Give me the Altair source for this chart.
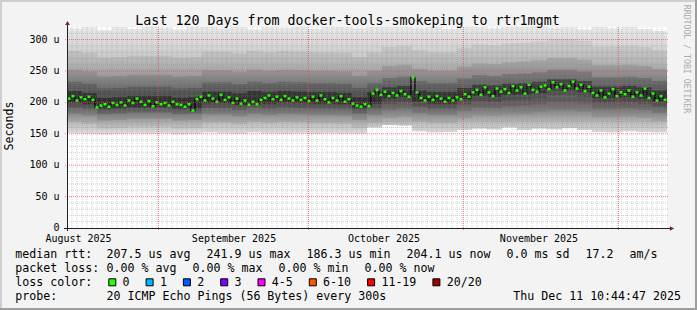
import altair as alt
import pandas as pd

# ---------------- data ----------------
# median rtt in microseconds, one sample every 0.8 day over the 120-day window
median_rtt = [
    206, 210, 203, 208, 205, 209, 204, 192, 195, 197, 193, 199, 196, 200, 195,
    203, 199, 206, 201, 196, 202, 194, 200, 197, 199, 195, 201, 197, 196, 193,
    197, 187, 205, 209, 203, 211, 206, 201, 212, 204, 208, 199, 206, 198, 203,
    196, 201, 197, 204, 207, 211, 205, 209, 204, 210, 206, 203, 208, 204, 207,
    202, 209, 203, 211, 205, 200, 207, 203, 210, 201, 205, 198, 195, 193, 197,
    194, 214, 220, 212, 217, 210, 215, 211, 218, 213, 209, 240, 216, 207, 203,
    209, 204, 210, 206, 201, 207, 203, 208, 205, 213, 209, 216, 220, 212, 224,
    216, 210, 222, 217, 221, 215, 226, 219, 224, 214, 228, 220, 217, 225, 227,
    221, 232, 224, 229, 219, 226, 233, 222, 228, 218, 225, 215, 211, 219, 208,
    214, 221, 210, 216, 213, 219, 209, 216, 211, 222, 207, 214, 203, 210, 204,
]

# smoke percentiles (us), one sample every 3 days
smoke_min = [151, 150, 149, 150, 151, 150, 151, 149, 150, 152, 151, 150, 152, 151, 150, 151, 150, 151, 150, 150,
             160, 164, 163, 154, 152, 153, 156, 158, 157, 160, 156, 158, 157, 159, 156, 153, 152, 154, 153, 152]
smoke_p10 = [169, 166, 158, 159, 161, 161, 161, 158, 159, 168, 168, 165, 169, 167, 169, 168, 167, 167, 166, 159,
             167, 175, 177, 170, 167, 167, 174, 179, 178, 181, 182, 184, 188, 188, 185, 176, 176, 177, 175, 170]
smoke_p20 = [182, 179, 171, 172, 174, 174, 174, 171, 172, 181, 181, 178, 182, 180, 182, 181, 180, 180, 179, 172,
             180, 188, 190, 183, 180, 180, 187, 192, 191, 194, 195, 197, 201, 201, 198, 189, 189, 190, 188, 183]
smoke_p30 = [192, 189, 181, 182, 184, 184, 184, 181, 182, 191, 191, 188, 192, 190, 192, 191, 190, 190, 189, 182,
             190, 198, 200, 193, 190, 190, 197, 202, 201, 204, 205, 207, 211, 211, 208, 199, 199, 200, 198, 193]
smoke_p40 = [200, 197, 189, 190, 192, 192, 192, 189, 190, 199, 199, 196, 200, 198, 200, 199, 198, 198, 197, 190,
             198, 206, 208, 201, 198, 198, 205, 210, 209, 212, 213, 215, 219, 219, 216, 207, 207, 208, 206, 201]
smoke_p60 = [218, 215, 207, 208, 210, 210, 210, 207, 208, 217, 217, 214, 218, 216, 218, 217, 216, 216, 215, 208,
             216, 224, 226, 219, 216, 216, 223, 228, 227, 230, 231, 233, 237, 237, 234, 225, 225, 226, 224, 219]
smoke_p70 = [233, 230, 222, 223, 225, 225, 225, 222, 223, 232, 232, 229, 233, 231, 233, 232, 231, 231, 230, 223,
             231, 239, 241, 234, 231, 231, 238, 243, 242, 245, 246, 248, 252, 252, 249, 240, 240, 241, 239, 234]
smoke_p80 = [252, 249, 241, 242, 244, 244, 244, 241, 242, 251, 251, 248, 252, 250, 252, 251, 250, 250, 249, 242,
             250, 258, 260, 253, 250, 250, 257, 262, 261, 264, 265, 267, 271, 271, 268, 259, 259, 260, 258, 253]
smoke_p90 = [282, 279, 271, 272, 274, 274, 274, 271, 272, 281, 281, 278, 282, 280, 282, 281, 280, 280, 279, 272,
             280, 288, 290, 283, 280, 280, 287, 292, 291, 294, 295, 297, 301, 301, 298, 289, 289, 290, 288, 283]
smoke_max = [318, 320, 315, 320, 317, 320, 319, 316, 320, 320, 318, 320, 316, 320, 319, 320, 317, 320, 320, 318,
             320, 320, 320, 319, 320, 317, 320, 320, 318, 320, 320, 320, 319, 320, 316, 320, 318, 320, 317, 314]

# time axis (days since start of window)
month_start_day = [18.3, 48.3, 79.3, 110.3]
month_label_day = [2.3, 33.4, 63.4, 94.4]
month_labels = ["August 2025", "September 2025", "October 2025", "November 2025"]
y_label_values = [0, 50, 100, 150, 200, 250, 300]

title_text = "Last 120 Days from docker-tools-smokeping to rtr1mgmt"
legend_rtt = ["median rtt:", "207.5 us avg", "241.9 us max", "186.3 us min", "204.1 us now", "0.0 ms sd", "17.2", " am/s"]
legend_loss = ["packet loss:", "0.00 % avg", "0.00 % max", "0.00 % min", "0.00 % now"]
loss_labels = ["0", "1", "2", "3", "4-5", "6-10", "11-19", "20/20"]
loss_colors = ["#26ff00", "#00b8ff", "#0059ff", "#7e00ff", "#ff00ff", "#ff5500", "#ff0000", "#a10000"]
probe_text = "20 ICMP Echo Pings (56 Bytes) every 300s"
date_text = "Thu Dec 11 10:44:47 2025"

# ---------------- layout ----------------
TOTAL_W, TOTAL_H = 697, 310
PL, PT = 67, 27          # plot-area origin in the canvas
W, H = 600, 201          # plot-area size
DAYS = 120
YMAX = 320
MONO = "DejaVu Sans Mono"
CW = 7.0                 # advance of the legend font
FS = CW / 0.602

xs = alt.Scale(domain=[0, DAYS], nice=False, zero=False)
ys = alt.Scale(domain=[0, YMAX], nice=False, zero=False)

# ---------- smoke ----------
SM_STEP = DAYS / len(smoke_min)
smoke = pd.DataFrame({
    "day": [i * SM_STEP for i in range(len(smoke_min))],
    "mn": smoke_min, "p10": smoke_p10, "p20": smoke_p20, "p30": smoke_p30, "p40": smoke_p40,
    "p60": smoke_p60, "p70": smoke_p70, "p80": smoke_p80, "p90": smoke_p90, "mx": smoke_max,
})
smoke = pd.concat([smoke, smoke.iloc[[-1]].assign(day=DAYS)], ignore_index=True)

lo_all, hi_all = min(smoke_min), max(smoke_max)

def off(v):
    return max(0.0, min(1.0, (hi_all - v) / (hi_all - lo_all)))

profile = [(320, "#e9e9e9"), (300, "#dddddd"), (280, "#cfcfcf"), (260, "#bdbdbd"), (245, "#a9a9a9"),
           (230, "#8f8f8f"), (215, "#747474"), (203, "#6a6a6a"), (190, "#7e7e7e"), (176, "#a3a3a3"),
           (164, "#c2c2c2"), (152, "#dadada"), (149, "#e0e0e0")]
smoke_fill = alt.Gradient(gradient="linear", x1=0, x2=0, y1=0, y2=1,
                          stops=[alt.GradientStop(offset=off(v), color=c) for v, c in profile])

def band(lo, hi, color, opacity=1.0):
    return alt.Chart(smoke).mark_area(interpolate="step-after", color=color, opacity=opacity, clip=True).encode(
        x=alt.X("day:Q", scale=xs, axis=None),
        y=alt.Y(f"{lo}:Q", scale=ys, axis=None),
        y2=f"{hi}:Q",
    )

layers = [
    band("mn", "mx", smoke_fill),
    band("p10", "p90", "#000000", 0.06),
    band("p20", "p80", "#000000", 0.10),
    band("p30", "p70", "#000000", 0.16),
    band("p40", "p60", "#000000", 0.36),
]

# ---------- median ----------
MD_STEP = DAYS / len(median_rtt)
med = pd.DataFrame({"day": [i * MD_STEP for i in range(len(median_rtt))], "v": median_rtt})
med["mid"] = med["day"] + MD_STEP / 2
med_line = pd.concat([med, med.iloc[[-1]].assign(day=DAYS)], ignore_index=True)
layers.append(alt.Chart(med_line).mark_line(interpolate="step-after", color="#000000", strokeWidth=1.2, clip=True).encode(
    x=alt.X("day:Q", scale=xs, axis=None), y=alt.Y("v:Q", scale=ys, axis=None)))
layers.append(alt.Chart(med).mark_tick(orient="horizontal", size=3.2, thickness=2.5, color="#26ff00", opacity=1).encode(
    x=alt.X("mid:Q", scale=xs, axis=None), y=alt.Y("v:Q", scale=ys, axis=None)))

# ---------- grid (drawn over the graph, like rrdtool) ----------
hminor = pd.DataFrame({"v": [v for v in range(10, YMAX, 10) if v % 50]})
hmajor = pd.DataFrame({"v": [v for v in range(50, YMAX, 50)]})
vminor = pd.DataFrame({"d": [d for d in range(1, DAYS)]})
vmajor = pd.DataFrame({"d": month_start_day})
layers.append(alt.Chart(hminor).mark_rule(color="#8c8c8c", strokeDash=[1, 1], opacity=0.4).encode(
    y=alt.Y("v:Q", scale=ys, axis=None), x=alt.value(0), x2=alt.value(W + 2)))
layers.append(alt.Chart(vminor).mark_rule(color="#8c8c8c", strokeDash=[1, 1], opacity=0.4).encode(
    x=alt.X("d:Q", scale=xs, axis=None), y=alt.value(0), y2=alt.value(H)))
layers.append(alt.Chart(hmajor).mark_rule(color="#e05050", strokeDash=[1, 1], opacity=0.7).encode(
    y=alt.Y("v:Q", scale=ys, axis=None), x=alt.value(-2), x2=alt.value(W + 2)))
layers.append(alt.Chart(vmajor).mark_rule(color="#e05050", strokeDash=[1, 1], opacity=0.7).encode(
    x=alt.X("d:Q", scale=xs, axis=None), y=alt.value(0), y2=alt.value(H + 3)))

# ---------- axes ----------
one = pd.DataFrame({"a": [0]})
layers.append(alt.Chart(one).mark_rule(color="#212121", strokeWidth=1).encode(
    x=alt.value(0.5), y=alt.value(-3), y2=alt.value(H + 3)))
layers.append(alt.Chart(one).mark_rule(color="#212121", strokeWidth=1).encode(
    y=alt.value(H + 0.5), x=alt.value(-3), x2=alt.value(W + 4)))
layers.append(alt.Chart(one).mark_point(shape="M-1,0.9L0,-0.9L1,0.9Z", size=22, filled=True, opacity=1, color="#801f1f").encode(
    x=alt.value(0.5), y=alt.value(-4)))
layers.append(alt.Chart(one).mark_point(shape="M-0.9,-1L0.9,0L-0.9,1Z", size=22, filled=True, opacity=1, color="#801f1f").encode(
    x=alt.value(W + 5), y=alt.value(H + 0.5)))

ylab = pd.DataFrame({"v": y_label_values})
ylab["t"] = [("%d u" % v) if v else "0" for v in y_label_values]
layers.append(alt.Chart(ylab).mark_text(align="right", baseline="middle", font=MONO, fontSize=10, color="black").encode(
    y=alt.Y("v:Q", scale=ys, axis=None), x=alt.value(-7.5), text="t:N"))

xlab = pd.DataFrame({"d": month_label_day, "t": month_labels})
layers.append(alt.Chart(xlab).mark_text(align="center", baseline="alphabetic", font=MONO, fontSize=10, color="black").encode(
    x=alt.X("d:Q", scale=xs, axis=None), y=alt.value(241.5 - PT), text="t:N"))

# ---------- texts ----------
def text(s, x, y, size=FS, align="left", baseline="alphabetic", color="black", angle=0):
    return alt.Chart(one).mark_text(text=s, align=align, baseline=baseline, font=MONO, fontSize=size,
                                    color=color, angle=angle).encode(x=alt.value(x - PL), y=alt.value(y - PT))

layers.append(text(title_text, 347.5, 24.5, size=13.3, align="center"))
layers.append(text("Seconds", 10, 126, angle=270, align="center", baseline="middle"))
layers.append(text("RRDTOOL / TOBI OETIKER", 686, 59, size=8.2, angle=90, align="center", baseline="middle", color="#ababab"))

COL0, COL1, GAP = 15.3, 106.6, 16

def legend_line(parts, y):
    out = [text(parts[0], COL0, y)]
    x = COL1
    for p in parts[1:]:
        out.append(text(p, x, y))
        x += CW * len(p) + GAP
    return out

layers += legend_line(legend_rtt, 258.3)
layers += legend_line(legend_loss, 272.3)
layers.append(text("loss color:", COL0, 286.3))
bx = 108.3
for lab, col in zip(loss_labels, loss_colors):
    layers.append(alt.Chart(one).mark_rect(color=col, stroke="black", strokeWidth=1).encode(
        x=alt.value(bx + 0.5 - PL), x2=alt.value(bx + 7.5 - PL), y=alt.value(278.8 - PT), y2=alt.value(285.8 - PT)))
    lx = bx + 14.3
    layers.append(text(lab, lx, 286.3))
    bx = lx + CW * len(lab) + GAP
layers.append(text("probe:", COL0, 300.3))
layers.append(text(probe_text, COL1, 300.3))
layers.append(text(date_text, 681, 300.3, align="right"))

# ---------- frame ----------
frame = [
    (0, 0, TOTAL_W, 2, "#cfcfcf"),
    (0, 0, 2, TOTAL_H, "#cfcfcf"),
    (TOTAL_W - 2, 0, TOTAL_W, TOTAL_H, "#9e9e9e"),
    (0, TOTAL_H - 2, TOTAL_W, TOTAL_H, "#9e9e9e"),
]
frame_layers = [alt.Chart(one).mark_rect(color=c).encode(
    x=alt.value(x0 - PL), x2=alt.value(x1 - PL), y=alt.value(y0 - PT), y2=alt.value(y1 - PT)) for x0, y0, x1, y1, c in frame]

chart = alt.layer(*frame_layers, *layers).properties(
    width=W, height=H,
    autosize=alt.AutoSizeParams(type="none"),
    padding={"left": PL, "top": PT, "right": TOTAL_W - PL - W, "bottom": TOTAL_H - PT - H},
    background="#f3f3f3",
).configure_view(fill="white", strokeWidth=0)

chart.save("out.html", embed_options={"renderer": "svg", "actions": False})
